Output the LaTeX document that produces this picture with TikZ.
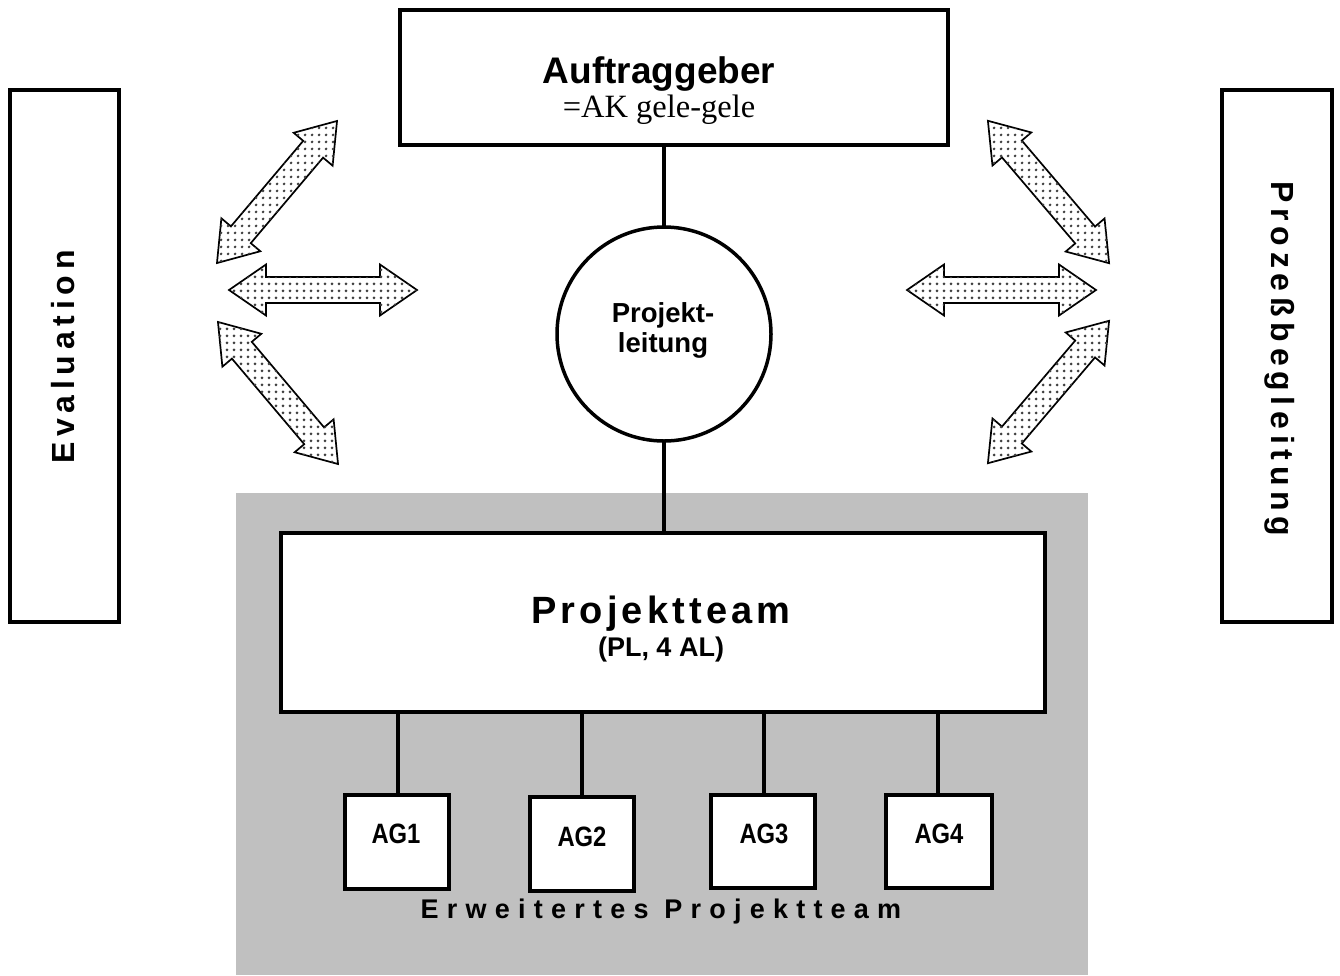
\documentclass[tikz,border=0pt]{standalone}
\usepackage{fontspec}
\setmainfont{Liberation Sans}
\newfontfamily\tms{Liberation Serif}
\usetikzlibrary{patterns.meta}
\definecolor{bggray}{RGB}{192,192,192}
\newcommand{\dblarrow}[4]{%
  \begin{scope}[shift={(#1,#2)},rotate=#3]
    \pgfmathsetmacro\hh{#4/2}\pgfmathsetmacro\hb{#4/2-37}
    \draw[dbl] (-\hh,0) -- (-\hb,25.5) -- (-\hb,13) -- (\hb,13) -- (\hb,25.5) -- (\hh,0)
      -- (\hb,-25.5) -- (\hb,-13) -- (-\hb,-13) -- (-\hb,-25.5) -- cycle;
  \end{scope}}
\begin{document}
\begin{tikzpicture}[x=1pt,y=-1pt,
  box/.style={draw, line width=3.5pt, fill=white, inner sep=0pt, outer sep=0pt},
  conn/.style={line width=3.5pt},
  dbl/.style={draw, line width=1.7pt, line join=miter, fill=white,
    postaction={pattern={Dots[distance=6.5pt, radius=1.6pt]}, pattern color=black!75}},
  lbl/.style 2 args={anchor=base, inner sep=0pt,
    font=\bfseries\fontsize{#1}{#1}\selectfont\addfontfeatures{LetterSpace=#2}},
  aglbl/.style={anchor=base, inner sep=0pt,
    font=\bfseries\fontsize{28}{28}\selectfont\addfontfeatures{FakeStretch=0.85}},
  vlbl/.style 2 args={inner sep=0pt, rotate=#1,
    font=\bfseries\fontsize{32}{32}\selectfont\addfontfeatures{LetterSpace=#2}},
]
\useasboundingbox (0,0) rectangle (1340,975);
% background of the extended team
\node[fill=bggray, inner sep=0pt, minimum width=852pt, minimum height=482pt] (ext) at (662,734) {};
% connectors
\draw[conn] (664,145) -- (664,334);
\draw[conn] (664,334) -- (664,533);
\draw[conn] (398,712) -- (398,795);
\draw[conn] (582,712) -- (582,797);
\draw[conn] (764,712) -- (764,795);
\draw[conn] (938,712) -- (938,795);
% boxes
\node[box, minimum width=548pt, minimum height=135pt] (auf) at (674,77.5) {};
\node[box, circle, minimum size=214pt] (pl) at (664,334) {};
\node[box, minimum width=764pt, minimum height=179pt] (pt) at (663,622.5) {};
\node[box, minimum width=104pt, minimum height=94pt] (ag1) at (397,842) {};
\node[box, line width=4.5pt, minimum width=104pt, minimum height=94pt] (ag2) at (582,844) {};
\node[box, minimum width=104pt, minimum height=93pt] (ag3) at (763,841.5) {};
\node[box, minimum width=106pt, minimum height=93pt] (ag4) at (939,841.5) {};
\node[box, minimum width=109pt, minimum height=532pt] (ev) at (64.5,356) {};
\node[box, minimum width=110pt, minimum height=532pt] (pb) at (1277,356) {};
% texts
\node[lbl={37}{0}] (tauf) at (659,83) {Auftraggeber};
\node[anchor=base, inner sep=0pt, font=\tms\fontsize{32.5}{32.5}\selectfont] (tak) at (659,117) {=AK gele-gele};
\node[lbl={27.5}{0}] (tpl1) at (663,322) {Projekt-};
\node[lbl={27.5}{0}] (tpl2) at (663,352) {leitung};
\node[lbl={38}{11}] (tpt) at (661,623) {Projektteam};
\node[lbl={27}{0}] (tpt2) at (661,656) {(PL, 4 AL)};
\node[aglbl] (tag1) at (396,843) {AG1};
\node[aglbl] (tag2) at (582,846) {AG2};
\node[aglbl] (tag3) at (764,843) {AG3};
\node[aglbl] (tag4) at (939,843) {AG4};
\node[lbl={27}{30.5}] (text) at (661,918) {Erweitertes Projektteam};
\node[vlbl={90}{18}] (tev) at (63,357) {Evaluation};
\node[vlbl={-90}{18}] (tpb) at (1280,359) {Prozeßbegleitung};
% double arrows
\dblarrow{277}{192}{49.8}{186}
\dblarrow{323}{290}{0}{188}
\dblarrow{278}{393}{-49.8}{186}
\dblarrow{1048.5}{192}{-49.6}{187}
\dblarrow{1001.5}{290}{0}{189}
\dblarrow{1048.5}{392}{49.6}{187}
\end{tikzpicture}
\end{document}
